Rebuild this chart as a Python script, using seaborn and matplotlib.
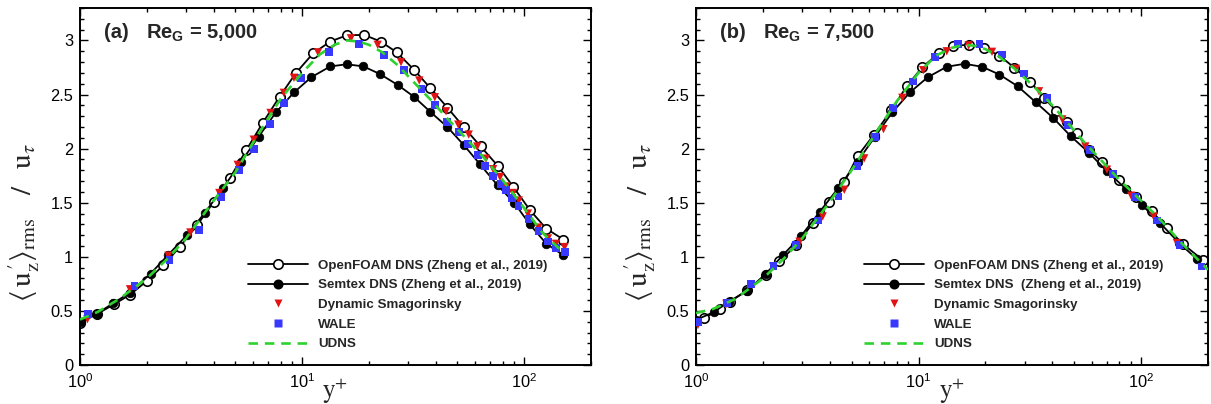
import numpy as np
import pandas as pd
import matplotlib
matplotlib.use("Agg")
import matplotlib.pyplot as plt
import seaborn as sns
from matplotlib.lines import Line2D
from matplotlib.ticker import LogLocator, MultipleLocator, FuncFormatter, NullFormatter

# ---------------- data: panel (a) Re_G = 5,000 ----------------
a_of_x = [1.0, 1.19, 1.42, 1.68, 2.01, 2.37, 2.81, 3.36, 4.01, 4.74, 5.62, 6.66, 7.92, 9.39,
          11.2, 13.4, 16.0, 19.1, 22.6, 26.7, 31.9, 37.8, 45.1, 53.4, 63.7, 76.2, 89.1,
          106.4, 125.8, 150.3]
a_of_y = [0.39, 0.47, 0.56, 0.65, 0.78, 0.92, 1.09, 1.29, 1.51, 1.73, 1.99, 2.24, 2.48, 2.70,
          2.88, 2.99, 3.05, 3.05, 2.99, 2.89, 2.73, 2.56, 2.38, 2.20, 2.02, 1.84, 1.65,
          1.43, 1.26, 1.16]

a_sx_x = [1.01, 1.19, 1.41, 1.68, 2.08, 2.5, 3.03, 3.64, 4.41, 5.31, 6.37, 7.62, 9.2, 11.0,
          13.4, 15.9, 18.9, 22.4, 26.9, 31.9, 37.8, 45.1, 53.4, 63.2, 76.0, 90.2, 106, 126, 150]
a_sx_y = [0.40, 0.475, 0.57, 0.67, 0.845, 1.02, 1.20, 1.405, 1.636, 1.877, 2.11, 2.335, 2.52,
          2.66, 2.76, 2.78, 2.76, 2.69, 2.59, 2.48, 2.34, 2.20, 2.035, 1.856, 1.66, 1.50,
          1.30, 1.12, 1.015]

a_ds_x = [1.08, 1.68, 2.5, 3.14, 4.24, 5.13, 6.06, 7.21, 8.28, 9.19, 11.8, 16.6, 21.9, 27.9,
          33.7, 39.6, 44.5, 50.5, 56.3, 61.5, 67.3, 72.5, 77.9, 83.0, 89.0, 94.6, 104, 116,
          128, 139, 152]
a_ds_y = [0.423, 0.70, 1.01, 1.225, 1.59, 1.85, 2.083, 2.33, 2.516, 2.655, 2.89, 3.02, 2.96,
          2.80, 2.63, 2.475, 2.345, 2.222, 2.13, 2.02, 1.907, 1.81, 1.738, 1.65, 1.59, 1.52,
          1.40, 1.27, 1.17, 1.12, 1.09]

a_wa_x = [1.09, 1.76, 2.53, 3.42, 4.33, 5.22, 6.1, 7.16, 8.28, 9.9, 13.2, 18.0, 23.4, 28.8,
          34.5, 39.8, 45.0, 50.7, 56.1, 61.8, 66.7, 72.2, 78.2, 82.9, 88.0, 94.3, 104.6, 116,
          128, 139, 153]
a_wa_y = [0.469, 0.731, 0.972, 1.25, 1.553, 1.806, 2.0, 2.229, 2.42, 2.655, 2.895, 2.97, 2.864,
          2.73, 2.55, 2.40, 2.25, 2.15, 2.046, 1.944, 1.843, 1.75, 1.673, 1.614, 1.543, 1.466,
          1.35, 1.24, 1.142, 1.08, 1.043]

a_ud_x = [1.0, 1.2, 1.5, 2.0, 2.5, 3.0, 4.0, 5.0, 6.0, 7.0, 8.0, 10, 12, 14, 16, 18, 20, 23,
          27, 32, 38, 45, 55, 65, 80, 100, 120, 150]
a_ud_y = [0.42, 0.49, 0.61, 0.80, 0.99, 1.17, 1.52, 1.78, 2.05, 2.27, 2.46, 2.70, 2.87, 2.96,
          3.00, 2.99, 2.96, 2.89, 2.77, 2.61, 2.45, 2.28, 2.09, 1.93, 1.71, 1.45, 1.23, 1.04]

# ---------------- data: panel (b) Re_G = 7,500 ----------------
b_of_x = [1.086, 1.28, 1.42, 1.7, 2.06, 2.37, 2.82, 3.36, 3.97, 4.64, 5.32, 6.31, 7.55, 8.85,
          10.4, 12.3, 14.3, 16.8, 19.6, 23.1, 26.9, 31.7, 36.7, 41.7, 46.5, 51.3, 58.5, 66.8,
          79.4, 95, 112, 131, 154, 189]
b_of_y = [0.432, 0.516, 0.586, 0.69, 0.833, 0.957, 1.107, 1.315, 1.51, 1.69, 1.93, 2.13, 2.355,
          2.577, 2.753, 2.88, 2.95, 2.96, 2.93, 2.86, 2.75, 2.62, 2.47, 2.345, 2.245, 2.14,
          1.99, 1.873, 1.706, 1.553, 1.42, 1.266, 1.12, 0.972]

b_sx_x = [1.0, 1.2, 1.41, 1.70, 2.06, 2.47, 2.97, 3.59, 4.36, 5.32, 6.37, 7.62, 9.15, 11.0,
          13.4, 16.1, 19.3, 23.1, 27.9, 33.6, 40.3, 48.4, 58.5, 70.3, 85.3, 101, 122, 148, 178]
b_sx_y = [0.417, 0.488, 0.586, 0.688, 0.843, 1.02, 1.194, 1.414, 1.636, 1.88, 2.11, 2.335, 2.52,
          2.66, 2.757, 2.784, 2.757, 2.685, 2.577, 2.43, 2.284, 2.114, 1.96, 1.79, 1.63, 1.48,
          1.31, 1.13, 0.98]

b_ds_x = [1.02, 1.37, 2.22, 2.92, 3.71, 4.64, 5.7, 6.96, 8.46, 10.5, 13.4, 16.8, 21.4, 27.4,
          34.8, 44.3, 56.2, 70.3, 90.3, 114, 145]
b_ds_y = [0.37, 0.565, 0.91, 1.14, 1.373, 1.62, 1.91, 2.18, 2.47, 2.725, 2.90, 2.954, 2.895,
          2.738, 2.53, 2.27, 2.02, 1.806, 1.565, 1.373, 1.127]

b_wa_x = [1.02, 1.38, 1.76, 2.23, 2.82, 3.52, 4.37, 5.32, 6.38, 7.7, 9.46, 11.9, 15.0, 18.8,
          23.7, 29.9, 37.7, 47.1, 58.9, 74.8, 94.2, 118, 149, 187]
b_wa_y = [0.395, 0.577, 0.747, 0.917, 1.11, 1.336, 1.558, 1.843, 2.108, 2.377, 2.62, 2.85, 2.97,
          2.97, 2.87, 2.694, 2.47, 2.222, 1.99, 1.768, 1.553, 1.336, 1.11, 0.91]

b_ud_x = [1.0, 1.2, 1.5, 2.0, 2.5, 3.0, 4.0, 5.0, 6.0, 7.0, 8.0, 10, 12, 14, 16, 18, 20, 23,
          27, 32, 38, 45, 55, 65, 80, 100, 120, 150, 200]
b_ud_y = [0.48, 0.52, 0.61, 0.80, 0.99, 1.17, 1.51, 1.80, 2.05, 2.26, 2.44, 2.70, 2.86, 2.93,
          2.96, 2.95, 2.92, 2.85, 2.74, 2.60, 2.45, 2.28, 2.07, 1.91, 1.71, 1.52, 1.36, 1.14, 0.88]

labels = ["OpenFOAM DNS (Zheng et al., 2019)", "Semtex DNS (Zheng et al., 2019)",
          "Dynamic Smagorinsky", "WALE", "UDNS"]
labels_b = ["OpenFOAM DNS (Zheng et al., 2019)", "Semtex DNS  (Zheng et al., 2019)",
            "Dynamic Smagorinsky", "WALE", "UDNS"]
tags = ["(a)", "(b)"]
re_vals = ["5,000", "7,500"]
yticks = [0, 0.5, 1, 1.5, 2, 2.5, 3]

# ---------------- style ----------------
sns.set_style("ticks")
plt.rcParams["font.family"] = ["Liberation Sans", "DejaVu Sans"]
plt.rcParams["mathtext.fontset"] = "custom"
plt.rcParams["mathtext.rm"] = "Liberation Sans"
plt.rcParams["mathtext.it"] = "Liberation Sans:italic"
plt.rcParams["mathtext.bf"] = "Liberation Sans:bold"

RED = "#e01414"
BLUE = "#3838ff"
GREEN = "#2ed12e"
DASH = (0, (3.6, 2.6))

fig = plt.figure(figsize=(12.11, 4.04), dpi=100)
W, H = 1211.0, 404.0
ax_a = fig.add_axes([80 / W, 39 / H, 511 / W, 357 / H])
ax_b = fig.add_axes([696 / W, 39 / H, 512 / W, 357 / H])


def draw(ax, of, sx, ds, wa, ud, tag, re, labs):
    sns.lineplot(x=of[0], y=of[1], ax=ax, color="black", lw=1.3, marker="o", markersize=6.8,
                 markerfacecolor="white", markeredgecolor="black", markeredgewidth=1.2,
                 sort=False, estimator=None, legend=False)
    sns.lineplot(x=sx[0], y=sx[1], ax=ax, color="black", lw=1.3, marker="o", markersize=6.2,
                 markerfacecolor="black", markeredgecolor="black", markeredgewidth=0.5,
                 sort=False, estimator=None, legend=False)
    sns.scatterplot(x=ds[0], y=ds[1], ax=ax, marker="v", s=36, color=RED, edgecolor="none",
                    linewidth=0, legend=False, zorder=3)
    sns.scatterplot(x=wa[0], y=wa[1], ax=ax, marker="s", s=32, color=BLUE, edgecolor="none",
                    linewidth=0, legend=False, zorder=3)
    sns.lineplot(x=ud[0], y=ud[1], ax=ax, color=GREEN, lw=1.9, linestyle=DASH,
                 sort=False, estimator=None, legend=False, zorder=4)

    ax.set_xscale("log")
    ax.set_xlim(1, 200)
    ax.set_ylim(0, 3.3)
    ax.xaxis.set_major_locator(LogLocator(base=10, numticks=10))
    ax.xaxis.set_minor_locator(LogLocator(base=10, subs=np.arange(2, 10), numticks=20))
    ax.xaxis.set_minor_formatter(NullFormatter())
    ax.set_yticks(yticks)
    ax.yaxis.set_minor_locator(MultipleLocator(0.1))
    ax.yaxis.set_major_formatter(FuncFormatter(lambda v, p: "%g" % v))
    ax.tick_params(which="both", direction="in", top=True, right=True, width=1.0,
                   labelsize=11.8, colors="black")
    ax.tick_params(which="major", length=6)
    ax.tick_params(which="minor", length=3.2)
    ax.tick_params(axis="y", pad=5)
    ax.tick_params(axis="x", pad=5)
    for sp in ax.spines.values():
        sp.set_linewidth(1.4)
        sp.set_color("black")
        sp.set_visible(True)

    ax.set_xlabel(r"$\mathrm{y}^{+}$", fontsize=18, math_fontfamily="stix", labelpad=0)
    ax.xaxis.set_label_coords(0.5, -0.032)
    ax.xaxis.label.set_va("top")
    ax.set_ylabel(r"$\langle\,\mathrm{u}_{\mathrm{z}}^{\,\prime}\rangle_{\mathrm{rms}}\;\;\;\;/\;\;\;\mathrm{u}_{\tau}$",
                  fontsize=21, math_fontfamily="stix")
    ax.yaxis.set_label_coords(-0.074, 0.40)

    ax.text(0.046, 0.915, tag, transform=ax.transAxes, fontsize=14.5, fontweight="bold",
            va="baseline", ha="left")
    ax.text(0.130, 0.915, r"$\mathbf{Re_G}$ = " + re, transform=ax.transAxes, fontsize=14.5,
            fontweight="bold", va="baseline", ha="left")

    handles = [
        Line2D([], [], color="black", lw=1.3, marker="o", ms=6.8, mfc="white", mec="black", mew=1.2),
        Line2D([], [], color="black", lw=1.3, marker="o", ms=6.2, mfc="black", mec="black"),
        Line2D([], [], ls="none", marker="v", ms=6.0, color=RED, mec="none"),
        Line2D([], [], ls="none", marker="s", ms=5.6, color=BLUE, mec="none"),
        Line2D([], [], color=GREEN, lw=1.9, linestyle=DASH),
    ]
    ax.legend(handles, labs, loc="upper left", bbox_to_anchor=(0.329, 0.296), frameon=False,
              borderaxespad=0, borderpad=0, handlelength=4.5, handletextpad=0.75,
              labelspacing=0.55, numpoints=1,
              prop={"family": "Liberation Sans", "weight": "bold", "size": 9.6})


draw(ax_a, (a_of_x, a_of_y), (a_sx_x, a_sx_y), (a_ds_x, a_ds_y), (a_wa_x, a_wa_y),
     (a_ud_x, a_ud_y), tags[0], re_vals[0], labels)
draw(ax_b, (b_of_x, b_of_y), (b_sx_x, b_sx_y), (b_ds_x, b_ds_y), (b_wa_x, b_wa_y),
     (b_ud_x, b_ud_y), tags[1], re_vals[1], labels_b)

fig.savefig("out.png", dpi=100)
